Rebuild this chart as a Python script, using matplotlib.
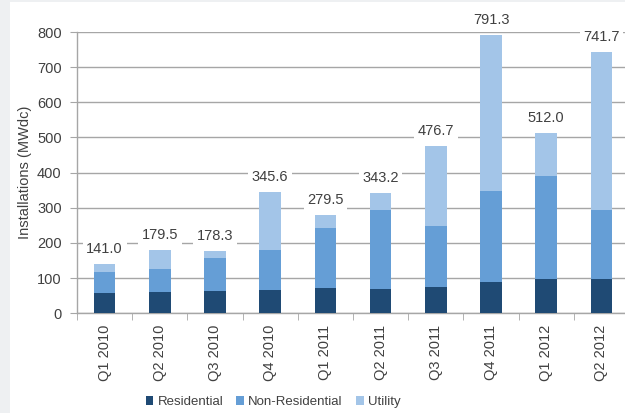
import matplotlib
matplotlib.use("Agg")
import matplotlib.pyplot as plt
import numpy as np
from matplotlib.patches import Rectangle

categories = ["Q1 2010", "Q2 2010", "Q3 2010", "Q4 2010", "Q1 2011",
              "Q2 2011", "Q3 2011", "Q4 2011", "Q1 2012", "Q2 2012"]
residential = [57, 60, 63, 66, 73, 70, 74, 90, 98, 98]
non_residential = [61, 65, 93, 114, 169, 224, 175, 259, 293, 196]
totals = [141.0, 179.5, 178.3, 345.6, 279.5, 343.2, 476.7, 791.3, 512.0, 741.7]
utility = [t - r - n for t, r, n in zip(totals, residential, non_residential)]
yticks = [0, 100, 200, 300, 400, 500, 600, 700, 800]

c_res = "#1F4A74"
c_non = "#659ED6"
c_uti = "#A3C5E8"
txt = "#404040"
grid = "#A6A6A6"

plt.rcParams["font.family"] = ["Liberation Sans", "DejaVu Sans"]

fig = plt.figure(figsize=(6.25, 4.13), dpi=100)
fig.patch.set_facecolor("#EEF0F2")
fig.patches.append(Rectangle((10/625, 0), 1, 1 - 2/413, transform=fig.transFigure,
                             facecolor="white", edgecolor="none", zorder=-10))

ax = fig.add_axes([77/625, 1 - 313.3/413, 552/625, (313.3 - 32)/413])
ax.set_facecolor("none")
x = np.arange(len(categories))
w = 0.39
ax.bar(x, residential, w, color=c_res, label="Residential", zorder=3)
ax.bar(x, non_residential, w, bottom=residential, color=c_non, label="Non-Residential", zorder=3)
bottoms = [r + n for r, n in zip(residential, non_residential)]
ax.bar(x, utility, w, bottom=bottoms, color=c_uti, label="Utility", zorder=3)

for xi, t in zip(x, totals):
    ax.annotate(f"{t:.1f}", (xi, t), xytext=(0, 15), textcoords="offset pixels",
                ha="center", va="center", fontsize=10.5, color=txt, zorder=5,
                bbox=dict(boxstyle="square,pad=0.25", fc="white", ec="none"))

ax.set_xlim(-0.5, len(categories) - 0.5)
ax.set_ylim(0, 800)
ax.set_yticks(yticks)
ax.set_yticklabels([str(v) for v in yticks], fontsize=10.5, color=txt)
ax.yaxis.grid(True, color=grid, linewidth=1.0, zorder=0)
ax.set_axisbelow(True)
ax.set_xticks(x)
ax.set_xticklabels(categories, rotation=90, fontsize=10.5, color=txt)
ax.set_xticks(np.arange(len(categories) + 1) - 0.5, minor=True)
ax.tick_params(axis="x", which="major", length=0, pad=8)
ax.tick_params(axis="x", which="minor", length=5, color=grid, direction="out")
ax.tick_params(axis="y", length=5, color=grid, pad=6)
for s in ["top", "right"]:
    ax.spines[s].set_visible(False)
for s in ["left", "bottom"]:
    ax.spines[s].set_color(grid)
    ax.spines[s].set_linewidth(1.0)
ax.set_ylabel("Installations (MWdc)", fontsize=10.5, color=txt, labelpad=4)

handles, labels = ax.get_legend_handles_labels()
leg = fig.legend(handles, labels, loc="center", bbox_to_anchor=(273/625, 1 - 402/413),
                 ncol=3, frameon=False, prop={"family": ["Liberation Sans Narrow", "Liberation Sans"], "size": 9.5},
                 handlelength=0.6, handleheight=0.6,
                 handletextpad=0.3, columnspacing=1.0)
for t in leg.get_texts():
    t.set_color(txt)

fig.savefig("out.png", dpi=100, facecolor=fig.get_facecolor())
